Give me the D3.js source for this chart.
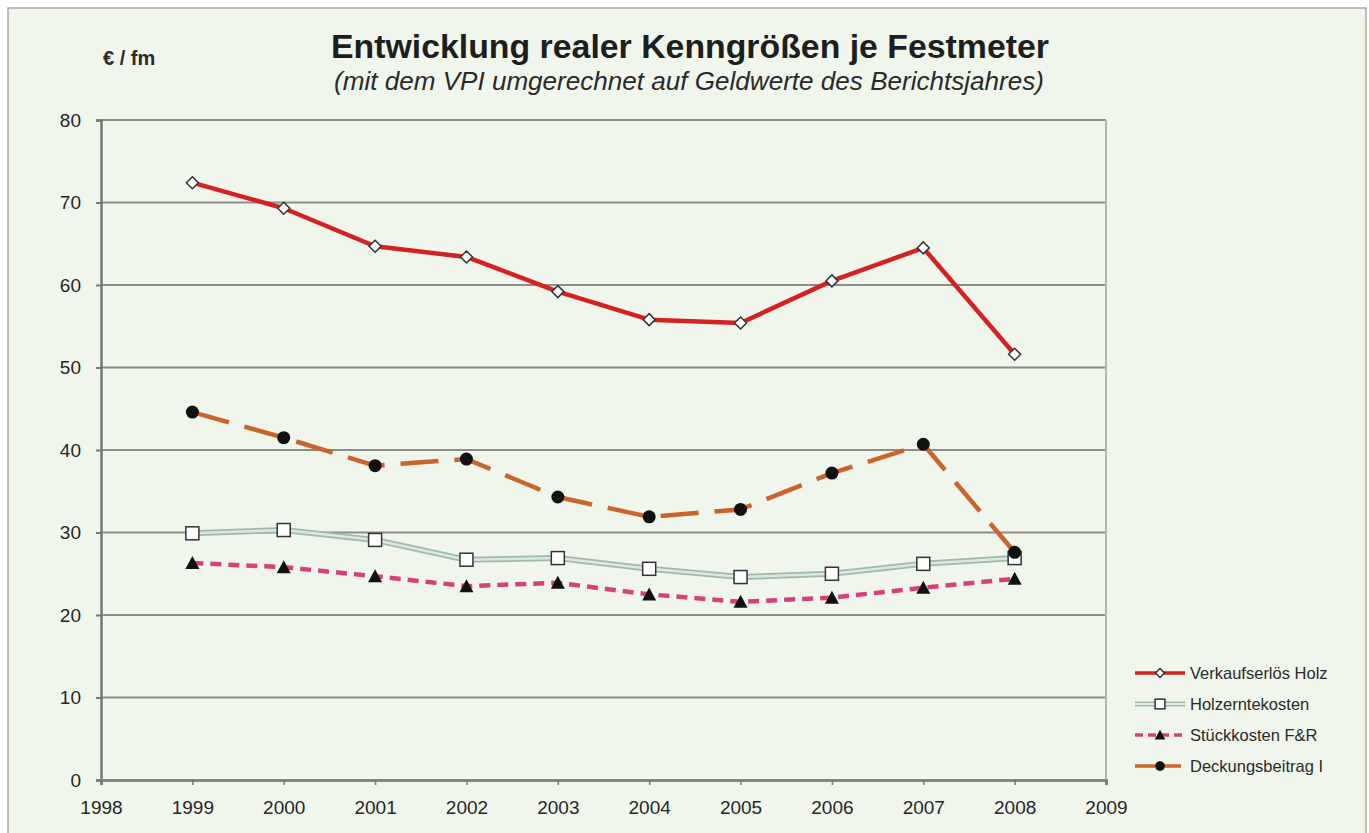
<!DOCTYPE html>
<html>
<head>
<meta charset="utf-8">
<script src="https://cdn.jsdelivr.net/npm/d3@7"></script>
<style>
  body { margin: 0; background: #ffffff; }
  svg { display: block; font-family: 'Liberation Sans', Arial, sans-serif; }
</style>
</head>
<body>
<svg id="chart" width="1369" height="833"></svg>
<script>
const years = [1999, 2000, 2001, 2002, 2003, 2004, 2005, 2006, 2007, 2008];
const verkaufserloes = [72.4, 69.3, 64.7, 63.4, 59.2, 55.8, 55.4, 60.5, 64.5, 51.6];
const holzerntekosten = [29.9, 30.3, 29.1, 26.7, 26.9, 25.6, 24.6, 25.0, 26.2, 26.9];
const stueckkosten = [26.3, 25.8, 24.7, 23.5, 23.9, 22.5, 21.6, 22.1, 23.3, 24.4];
const deckungsbeitrag = [44.6, 41.5, 38.1, 38.9, 34.3, 31.9, 32.8, 37.2, 40.7, 27.6];
const legendLabels = ['Verkaufserlös Holz', 'Holzerntekosten', 'Stückkosten F&R', 'Deckungsbeitrag I'];
const yTicks = [0, 10, 20, 30, 40, 50, 60, 70, 80];
const xTicks = [1998, 1999, 2000, 2001, 2002, 2003, 2004, 2005, 2006, 2007, 2008, 2009];

const svg = d3.select('#chart');

// background + outer frame
svg.append('rect')
  .attr('x', 8).attr('y', 8)
  .attr('width', 1358).attr('height', 840)
  .attr('fill', '#f1f6ec')
  .attr('stroke', '#a8aaa6')
  .attr('stroke-width', 1.5);

/**
 * SCALES
 */
const plotLeft = 101, plotRight = 1106, plotTop = 120, plotBottom = 780;
const x = d3.scaleLinear().domain([1998, 2009]).range([plotLeft, plotRight]);
const y = d3.scaleLinear().domain([0, 80]).range([plotBottom, plotTop]);

// gridlines
svg.append('g')
  .selectAll('line')
  .data(yTicks.filter(d => d > 0))
  .join('line')
  .attr('x1', plotLeft).attr('x2', plotRight)
  .attr('y1', d => y(d)).attr('y2', d => y(d))
  .attr('stroke', '#8c8c88')
  .attr('stroke-width', 2);

// right border of plot
svg.append('line')
  .attr('x1', plotRight).attr('x2', plotRight)
  .attr('y1', plotTop).attr('y2', plotBottom)
  .attr('stroke', '#b4b6b2')
  .attr('stroke-width', 2);

/**
 * AXES
 */
const yAxis = d3.axisLeft(y).tickValues(yTicks).tickSize(5).tickPadding(15);
const gY = svg.append('g')
  .attr('transform', `translate(${plotLeft},0)`)
  .call(yAxis);
gY.select('.domain').attr('stroke', '#777774').attr('stroke-width', 2.5);
gY.selectAll('.tick line').attr('stroke', '#777774').attr('stroke-width', 2);
gY.selectAll('.tick text')
  .attr('fill', '#262626')
  .attr('font-size', 19);

const xAxis = d3.axisBottom(x).tickValues(xTicks).tickFormat(d3.format('d')).tickSize(5).tickPadding(16);
const gX = svg.append('g')
  .attr('transform', `translate(0,${plotBottom})`)
  .call(xAxis);
gX.select('.domain').attr('stroke', '#858582').attr('stroke-width', 3);
gX.selectAll('.tick line').attr('stroke', '#777774').attr('stroke-width', 1.5);
gX.selectAll('.tick text')
  .attr('fill', '#262626')
  .attr('font-size', 19);

/**
 * TITLES
 */
svg.append('text')
  .attr('x', 690).attr('y', 58)
  .attr('text-anchor', 'middle')
  .attr('font-size', 33)
  .attr('font-weight', 'bold')
  .attr('fill', '#1e1e1e')
  .attr('textLength', 718)
  .attr('lengthAdjust', 'spacingAndGlyphs')
  .text('Entwicklung realer Kenngrößen je Festmeter');

svg.append('text')
  .attr('x', 689).attr('y', 90)
  .attr('text-anchor', 'middle')
  .attr('font-size', 25)
  .attr('font-style', 'italic')
  .attr('fill', '#2a2a2a')
  .attr('textLength', 710)
  .attr('lengthAdjust', 'spacingAndGlyphs')
  .text('(mit dem VPI umgerechnet auf Geldwerte des Berichtsjahres)');

svg.append('text')
  .attr('x', 103).attr('y', 65)
  .attr('font-size', 20)
  .attr('font-weight', 'bold')
  .attr('fill', '#2a2a2a')
  .text('€ / fm');

/**
 * SERIES
 */
const line = d3.line()
  .x((d, i) => x(years[i]))
  .y(d => y(d));

const styles = [
  { data: verkaufserloes, layers: [{ color: '#d42222', width: 4.5 }], marker: 'diamond' },
  { data: holzerntekosten, layers: [{ color: '#a3b8ac', width: 6 }, { color: '#d6eae2', width: 2.5 }], marker: 'square' },
  { data: stueckkosten, layers: [{ color: '#d8407c', width: 4.5, dash: '11,7' }], marker: 'triangle' },
  { data: deckungsbeitrag, layers: [{ color: '#c8642c', width: 4.5, dash: '38,16' }], marker: 'circle' }
];

function drawMarker(g, type, cx, cy, scale) {
  const s = scale || 1;
  if (type === 'diamond') {
    g.append('path')
      .attr('d', `M${cx},${cy - 6 * s}L${cx + 6 * s},${cy}L${cx},${cy + 6 * s}L${cx - 6 * s},${cy}Z`)
      .attr('fill', '#ffffff').attr('stroke', '#333333').attr('stroke-width', 1.5);
  } else if (type === 'square') {
    g.append('rect')
      .attr('x', cx - 6.5 * s).attr('y', cy - 6.5 * s)
      .attr('width', 13 * s).attr('height', 13 * s)
      .attr('fill', '#ffffff').attr('stroke', '#333333').attr('stroke-width', 1.5);
  } else if (type === 'triangle') {
    g.append('path')
      .attr('d', `M${cx},${cy - 7 * s}L${cx + 7 * s},${cy + 6 * s}L${cx - 7 * s},${cy + 6 * s}Z`)
      .attr('fill', '#111111');
  } else {
    g.append('circle')
      .attr('cx', cx).attr('cy', cy).attr('r', 6.5 * s)
      .attr('fill', '#111111');
  }
}

// draw order: Holzernte, Stück, Verkauf, Deckung (Deckung on top)
[1, 2, 0, 3].forEach(k => {
  const st = styles[k];
  const g = svg.append('g').attr('class', 'series');
  st.layers.forEach(l => {
    g.append('path')
      .attr('d', line(st.data))
      .attr('fill', 'none')
      .attr('stroke', l.color)
      .attr('stroke-width', l.width)
      .attr('stroke-dasharray', l.dash || null)
      .attr('stroke-linejoin', 'round');
  });
  st.data.forEach((v, i) => drawMarker(g, st.marker, x(years[i]), y(v)));
});

/**
 * LEGEND
 */
const legend = svg.append('g').attr('transform', 'translate(1135,673)');
styles.forEach((st, i) => {
  const row = legend.append('g').attr('transform', `translate(0,${i * 31})`);
  st.layers.forEach(l => {
    row.append('line')
      .attr('x1', 0).attr('x2', 50).attr('y1', 0).attr('y2', 0)
      .attr('stroke', l.color)
      .attr('stroke-width', l.width * 0.8)
      .attr('stroke-dasharray', l.dash ? (st.marker === 'circle' ? '20,6' : '8,5') : null);
  });
  drawMarker(row, st.marker, 25, 0, 0.75);
  row.append('text')
    .attr('x', 55).attr('y', 6)
    .attr('font-size', 16.5)
    .attr('fill', '#2a2a2a')
    .text(legendLabels[i]);
});
</script>
</body>
</html>
